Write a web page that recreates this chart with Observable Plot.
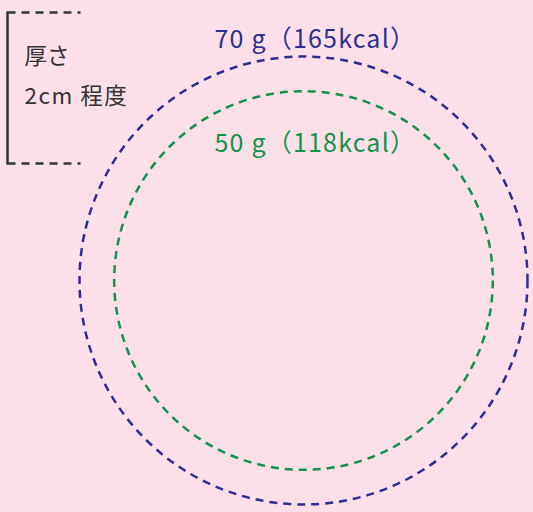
<!DOCTYPE html>
<html><head><meta charset="utf-8">
<script src="https://cdn.jsdelivr.net/npm/d3@7"></script>
<script src="https://cdn.jsdelivr.net/npm/@observablehq/plot@0.6"></script>
<style>
html,body{margin:0;padding:0;background:#fbe0ea;}
</style>
</head><body>
<div id="chart"></div>
<script>
const labels = ["70 g（165kcal）", "50 g（118kcal）"];
const grams = [70, 50];
const kcal = [165, 118];
const colors = ["#2e2f8f", "#14914a"];
const noteLines = ["厚さ", "2cm 程度"];

const circles = grams.map((g, i) => ({label: labels[i], grams: g, kcal: kcal[i], color: colors[i]}));

const W = 533, H = 512;
const cx = 303, cy = 280;
const labelY = [39, 143];
const bracket = [
  {x1: 7, y1: 12, x2: 80, y2: 12, dash: "8,6"},
  {x1: 7, y1: 163, x2: 80, y2: 163, dash: "8,6"},
  {x1: 7, y1: 11, x2: 7, y2: 164, dash: null}
];

const chart = Plot.plot({
  width: W, height: H,
  margin: 0,
  x: {domain: [0, W], axis: null},
  y: {domain: [H, 0], axis: null},
  r: {type: "sqrt", domain: [0, 70], range: [0, 224]},
  style: {background: "#fbe0ea", fontFamily: "'Noto Sans CJK JP', 'Noto Sans', sans-serif"},
  marks: [
    Plot.dot(circles, {x: () => cx, y: () => cy, r: "grams", stroke: d => d.color, strokeWidth: 2.5, strokeDasharray: "8,6", fill: "none"}),
    Plot.text(circles, {x: () => 214, y: (d, i) => labelY[i], text: "label", fill: d => d.color, fontSize: 25, textAnchor: "start", style: "letter-spacing:1px"}),
    Plot.link(bracket.filter(b => b.dash), {x1: "x1", y1: "y1", x2: "x2", y2: "y2", stroke: "#333", strokeWidth: 2.5, strokeDasharray: "8,6"}),
    Plot.link(bracket.filter(b => !b.dash), {x1: "x1", y1: "y1", x2: "x2", y2: "y2", stroke: "#333", strokeWidth: 2.5}),
    Plot.text(noteLines, {x: () => 24, y: (d, i) => 56 + i * 40, text: d => d, fill: "#333", fontSize: 22.5, textAnchor: "start"})
  ]
});
chart.querySelectorAll("text").forEach(t => {
  const s = t.textContent;
  if (s.includes("kcal")) t.setAttribute("letter-spacing", "1.2");
  if (s.includes("cm")) t.setAttribute("letter-spacing", "1.5");
});
document.getElementById("chart").appendChild(chart);
</script>
</body></html>
